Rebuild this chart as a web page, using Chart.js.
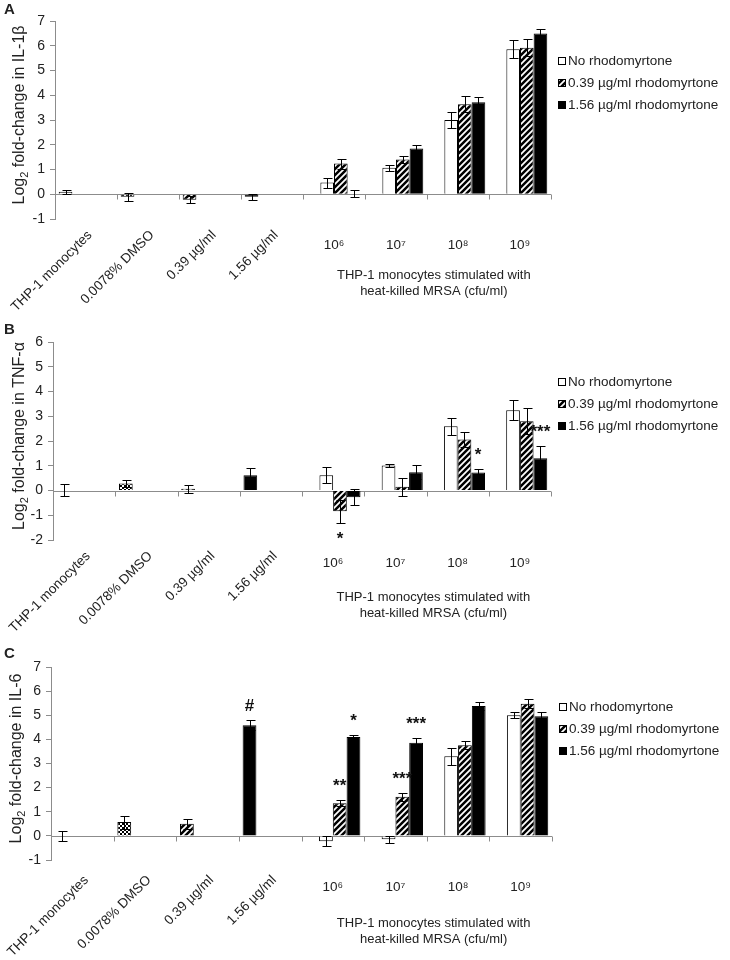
<!DOCTYPE html>
<html>
<head>
<meta charset="utf-8">
<script src="https://cdn.jsdelivr.net/npm/chart.js@4.4.0/dist/chart.umd.min.js"></script>
<style>
html, body { margin: 0; padding: 0; background: #fff; }
#wrap { position: relative; width: 730px; height: 960px; }
.panel { position: absolute; left: 0; width: 730px; }
</style>
</head>
<body>
<div id="wrap">
  <div class="panel" style="top:0;height:315px"><canvas id="chartA"></canvas></div>
  <div class="panel" style="top:305px;height:330px"><canvas id="chartB"></canvas></div>
  <div class="panel" style="top:625px;height:335px"><canvas id="chartC"></canvas></div>
</div>
<script>
var categories = ['THP-1 monocytes', '0.0078% DMSO', '0.39 µg/ml', '1.56 µg/ml', '10⁶', '10⁷', '10⁸', '10⁹'];
var seriesNames = ['No rhodomyrtone', '0.39 µg/ml rhodomyrtone', '1.56 µg/ml rhodomyrtone'];
var groupTitle = ['THP-1 monocytes stimulated with', 'heat-killed MRSA (cfu/ml)'];

// A: IL-1beta  (controls for the first 4 categories, then doses 10^6..10^9)
var ctrlA = [0.10, -0.10, -0.22, -0.10];
var ctrlErrA = [0.07, 0.17, 0.13, 0.13];
var noneA = [0.47, 1.07, 3.00, 5.86];
var noneErrA = [0.20, 0.13, 0.32, 0.36];
var lowA = [1.24, 1.40, 3.64, 5.92];
var lowErrA = [0.20, 0.13, 0.32, 0.34];
var highA = [0.02, 1.85, 3.72, 6.49];
var highErrA = [0.15, 0.13, 0.22, 0.18];
var starsA = [];

// B: TNF-alpha
var ctrlB = [0.02, 0.28, 0.07, 0.62];
var ctrlErrB = [0.24, 0.13, 0.17, 0.30];
var noneB = [0.62, 1.01, 2.60, 3.24];
var noneErrB = [0.32, 0.08, 0.34, 0.40];
var lowB = [-0.84, 0.15, 2.06, 2.80];
var lowErrB = [0.47, 0.37, 0.30, 0.53];
var highB = [-0.27, 0.74, 0.73, 1.30];
var highErrB = [0.32, 0.28, 0.15, 0.50];
// [dataset, category, text, side]
var starsB = [[2, 4, '*', 'below'], [3, 6, '*', 'above'], [3, 7, '***', 'above']];

// C: IL-6
var ctrlC = [0.00, 0.57, 0.50, 4.59];
var ctrlErrC = [0.22, 0.27, 0.20, 0.20];
var noneC = [-0.22, -0.14, 3.30, 5.00];
var noneErrC = [0.20, 0.15, 0.35, 0.13];
var lowC = [1.35, 1.62, 3.76, 5.48];
var lowErrC = [0.13, 0.16, 0.17, 0.18];
var highC = [4.10, 3.86, 5.38, 4.96];
var highErrC = [0.08, 0.20, 0.16, 0.18];
var starsC = [[0, 3, '#', 'above'], [2, 4, '**', 'above'], [3, 4, '*', 'above'],
              [2, 5, '***', 'above'], [3, 5, '***', 'above']];

var FONT = '"Liberation Sans", Arial, Helvetica, sans-serif';
Chart.defaults.font.family = FONT;
Chart.defaults.color = '#222';

function makePattern(kind) {
    var c = document.createElement('canvas');
    var s = kind === 'hatch' ? 6 : 4;
    c.width = s; c.height = s;
    var g = c.getContext('2d');
    g.fillStyle = '#fff';
    g.fillRect(0, 0, s, s);
    g.fillStyle = '#000';
    g.strokeStyle = '#000';
    if (kind === 'hatch') {
        g.lineWidth = 2.5;
        g.beginPath();
        g.moveTo(-1, s + 1); g.lineTo(s + 1, -1);
        g.moveTo(-1, 1); g.lineTo(1, -1);
        g.moveTo(s - 1, s + 1); g.lineTo(s + 1, s - 1);
        g.stroke();
    } else {
        g.fillRect(0, 0, 2, 2);
        g.fillRect(2, 2, 2, 2);
    }
    return g.createPattern(c, 'repeat');
}
var hatch = makePattern('hatch');
var checker = makePattern('checker');
var fills = ['#fff', hatch, '#000'];
var ctrlFills = ['#fff', checker, hatch, '#000'];

var empty4 = [null, null, null, null];

var decor = {
    id: 'decor',
    beforeDatasetsDraw: function (chart, args, o) {
        var ctx = chart.ctx, a = chart.chartArea, y = chart.scales.y;
        var y0 = Math.round(y.getPixelForValue(0)) + 0.5;
        var w = (a.right - a.left) / categories.length;
        ctx.save();
        ctx.strokeStyle = '#8c8c8c';
        ctx.lineWidth = 1;
        ctx.beginPath();
        ctx.moveTo(a.left, y0); ctx.lineTo(a.right, y0);
        for (var i = 1; i <= categories.length; i++) {
            var bx = Math.round(a.left + i * w) + 0.5;
            ctx.moveTo(bx, y0); ctx.lineTo(bx, y0 + 5);
        }
        ctx.stroke();
        ctx.restore();
    },
    afterDatasetsDraw: function (chart, args, o) {
        var ctx = chart.ctx, y = chart.scales.y;
        ctx.save();
        ctx.strokeStyle = '#000';
        ctx.lineWidth = 1;
        chart.data.datasets.forEach(function (ds, di) {
            var meta = chart.getDatasetMeta(di);
            ds.data.forEach(function (v, i) {
                if (v === null) return;
                var e = ds.errors[i];
                var bx = Math.round(meta.data[i].x) + 0.5;
                var t = Math.round(y.getPixelForValue(v + e)) + 0.5;
                var b = Math.round(y.getPixelForValue(v - e)) + 0.5;
                ctx.beginPath();
                ctx.moveTo(bx, t); ctx.lineTo(bx, b);
                ctx.moveTo(bx - 4, t); ctx.lineTo(bx + 5, t);
                ctx.moveTo(bx - 4, b); ctx.lineTo(bx + 5, b);
                ctx.stroke();
            });
        });
        // significance marks
        ctx.fillStyle = '#111';
        ctx.textAlign = 'center';
        ctx.textBaseline = 'alphabetic';
        ctx.font = 'bold 17px ' + FONT;
        o.stars.forEach(function (s) {
            var ds = chart.data.datasets[s[0]];
            var el = chart.getDatasetMeta(s[0]).data[s[1]];
            var v = ds.data[s[1]], e = ds.errors[s[1]];
            var ty = s[3] === 'above' ? y.getPixelForValue(v + e) - 9 : y.getPixelForValue(v - e) + 21;
            ctx.fillText(s[2], el.x, ty);
        });
        ctx.restore();
    },
    afterDraw: function (chart, args, o) {
        var ctx = chart.ctx, a = chart.chartArea, x = chart.scales.x;
        ctx.save();
        ctx.fillStyle = '#222';

        // panel letter
        ctx.font = 'bold 15px ' + FONT;
        ctx.textAlign = 'left';
        ctx.textBaseline = 'middle';
        ctx.fillText(o.letter, 4, o.letterY);

        // y axis title with subscript
        ctx.save();
        ctx.translate(o.titleX, (a.top + a.bottom) / 2 - 5);
        ctx.rotate(-Math.PI / 2);
        var big = '16px ' + FONT, small = '11px ' + FONT;
        var rest = ' fold-change in ' + o.title;
        ctx.font = big;
        var w1 = ctx.measureText('Log').width, w3 = ctx.measureText(rest).width;
        ctx.font = small;
        var w2 = ctx.measureText('2').width;
        var sx = -(w1 + w2 + w3) / 2;
        ctx.textAlign = 'left';
        ctx.textBaseline = 'alphabetic';
        ctx.font = big;
        ctx.fillText('Log', sx, 6);
        ctx.font = small;
        ctx.fillText('2', sx + w1, 10);
        ctx.font = big;
        ctx.fillText(rest, sx + w1 + w2, 6);
        ctx.restore();

        // category labels
        ctx.font = '13.5px ' + FONT;
        categories.forEach(function (lab, i) {
            var cx = x.getPixelForValue(i);
            if (i < 4) {
                ctx.save();
                ctx.translate(cx + 4, a.bottom + o.rotGap);
                ctx.rotate(-Math.PI / 4);
                ctx.textAlign = 'right';
                ctx.textBaseline = 'middle';
                ctx.fillText(lab, 0, 0);
                ctx.restore();
            } else {
                ctx.textAlign = 'center';
                ctx.textBaseline = 'middle';
                ctx.fillText(lab, cx, a.bottom + o.doseGap);
            }
        });

        // group title under the MRSA doses
        ctx.font = '13px ' + FONT;
        var m1 = chart.getDatasetMeta(1).data[4], m3 = chart.getDatasetMeta(3).data[7];
        var gx = (m1.x + m3.x) / 2;
        ctx.textAlign = 'center';
        ctx.textBaseline = 'middle';
        ctx.fillText(groupTitle[0], gx, a.bottom + o.groupGap);
        ctx.fillText(groupTitle[1], gx, a.bottom + o.groupGap + 16);

        // legend
        ctx.font = '13.5px ' + FONT;
        var lx = a.right + 7, ly = a.top + 40;
        ctx.textAlign = 'left';
        seriesNames.forEach(function (name, i) {
            var yy = ly + i * 22;
            ctx.fillStyle = fills[i];
            ctx.fillRect(lx, yy - 4, 8, 8);
            ctx.strokeStyle = '#000';
            ctx.lineWidth = 1;
            ctx.strokeRect(lx + 0.5, yy - 3.5, 7, 7);
            ctx.fillStyle = '#222';
            ctx.fillText(name, lx + 10, yy);
        });
        ctx.restore();
    }
};

function panel(id, cfg) {
    var d = cfg.data;
    return new Chart(document.getElementById(id).getContext('2d'), {
        type: 'bar',
        data: {
            labels: categories,
            datasets: [
                { label: 'controls', data: d[0].concat(empty4), errors: d[1].concat(empty4), backgroundColor: ctrlFills },
                { label: seriesNames[0], data: empty4.concat(d[2]), errors: empty4.concat(d[3]), backgroundColor: fills[0] },
                { label: seriesNames[1], data: empty4.concat(d[4]), errors: empty4.concat(d[5]), backgroundColor: fills[1] },
                { label: seriesNames[2], data: empty4.concat(d[6]), errors: empty4.concat(d[7]), backgroundColor: fills[2] }
            ]
        },
        options: {
            responsive: true,
            maintainAspectRatio: false,
            animation: false,
            devicePixelRatio: 1,
            layout: { padding: { top: cfg.top, right: cfg.right, left: 0, bottom: 0 } },
            datasets: {
                bar: { borderColor: '#000', borderWidth: 1, categoryPercentage: 0.88, barPercentage: 1.0 }
            },
            scales: {
                x: {
                    grid: { display: false },
                    border: { display: false },
                    ticks: { display: false },
                    afterFit: function (s) { s.height = cfg.bottom; }
                },
                y: {
                    min: cfg.min,
                    max: cfg.max,
                    ticks: { stepSize: 1, color: '#222', font: { size: 14 }, padding: 5 },
                    grid: { drawOnChartArea: false, drawTicks: true, tickLength: 5, color: '#8c8c8c' },
                    border: { color: '#8c8c8c' },
                    afterFit: function (s) { s.width = cfg.left; }
                }
            },
            plugins: {
                legend: { display: false },
                tooltip: { enabled: false },
                decor: cfg.decor
            }
        },
        plugins: [decor]
    });
}

panel('chartA', {
    data: [ctrlA, ctrlErrA, noneA, noneErrA, lowA, lowErrA, highA, highErrA],
    min: -1, max: 7, top: 21, bottom: 96, left: 55, right: 179,
    decor: { letter: 'A', letterY: 10, title: 'IL-1β', titleX: 18, stars: starsA, rotGap: 14, doseGap: 26, groupGap: 56 }
});
panel('chartB', {
    data: [ctrlB, ctrlErrB, noneB, noneErrB, lowB, lowErrB, highB, highErrB],
    min: -2, max: 6, top: 37, bottom: 95, left: 53, right: 179,
    decor: { letter: 'B', letterY: 25, title: 'TNF-α', titleX: 18, stars: starsB, rotGap: 14, doseGap: 23, groupGap: 57 }
});
panel('chartC', {
    data: [ctrlC, ctrlErrC, noneC, noneErrC, lowC, lowErrC, highC, highErrC],
    min: -1, max: 7, top: 42, bottom: 100, left: 51, right: 178,
    decor: { letter: 'C', letterY: 29, title: 'IL-6', titleX: 15, stars: starsC, rotGap: 18, doseGap: 27, groupGap: 63 }
});
</script>
</body>
</html>
